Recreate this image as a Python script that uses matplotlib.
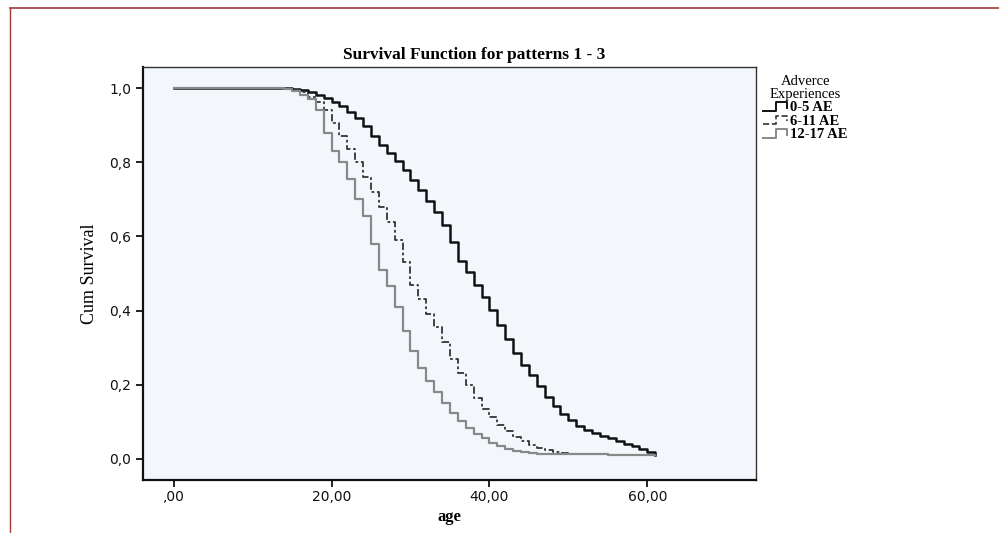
import matplotlib
matplotlib.use("Agg")
import matplotlib.pyplot as plt
from matplotlib.lines import Line2D
from matplotlib.legend_handler import HandlerBase

# Kaplan-Meier step values (age, cumulative survival)
ages_0_5 = [0, 15, 16, 17, 18, 19, 20, 21, 22, 23, 24, 25, 26, 27, 28, 29, 30,
            31, 32, 33, 34, 35, 36, 37, 38, 39, 40, 41, 42, 43, 44, 45, 46, 47,
            48, 49, 50, 51, 52, 53, 54, 55, 56, 57, 58, 59, 60, 61]
surv_0_5 = [1.0, 0.998, 0.995, 0.99, 0.982, 0.973, 0.963, 0.951, 0.936, 0.92,
            0.897, 0.872, 0.846, 0.824, 0.803, 0.778, 0.752, 0.724, 0.696,
            0.667, 0.632, 0.585, 0.535, 0.503, 0.47, 0.437, 0.402, 0.36, 0.322,
            0.285, 0.252, 0.225, 0.197, 0.168, 0.143, 0.122, 0.105, 0.09,
            0.078, 0.069, 0.062, 0.055, 0.047, 0.04, 0.034, 0.026, 0.019, 0.011]

ages_6_11 = [0, 14, 15, 16, 17, 18, 19, 20, 21, 22, 23, 24, 25, 26, 27, 28, 29,
             30, 31, 32, 33, 34, 35, 36, 37, 38, 39, 40, 41, 42, 43, 44, 45, 46,
             47, 48, 49, 50]
surv_6_11 = [1.0, 0.998, 0.995, 0.99, 0.975, 0.962, 0.94, 0.905, 0.87, 0.835,
             0.80, 0.76, 0.72, 0.68, 0.64, 0.59, 0.53, 0.47, 0.43, 0.39, 0.355,
             0.315, 0.27, 0.232, 0.198, 0.165, 0.135, 0.112, 0.092, 0.075, 0.06,
             0.048, 0.038, 0.03, 0.024, 0.018, 0.015, 0.012]

ages_12_17 = [0, 14, 15, 16, 17, 18, 19, 20, 21, 22, 23, 24, 25, 26, 27, 28,
              29, 30, 31, 32, 33, 34, 35, 36, 37, 38, 39, 40, 41, 42, 43, 44,
              45, 46, 50, 55, 61]
surv_12_17 = [1.0, 0.997, 0.992, 0.982, 0.97, 0.94, 0.88, 0.83, 0.80, 0.755,
              0.70, 0.655, 0.58, 0.51, 0.465, 0.41, 0.345, 0.29, 0.245, 0.21,
              0.18, 0.152, 0.124, 0.102, 0.083, 0.068, 0.055, 0.043, 0.034,
              0.027, 0.022, 0.018, 0.016, 0.014, 0.012, 0.011, 0.01]

x_ticks = [0, 20, 40, 60]
y_ticks = [0.0, 0.2, 0.4, 0.6, 0.8, 1.0]
group_labels = ["0-5 AE", "6-11 AE", "12-17 AE"]


class StepHandler(HandlerBase):
    # draws the little step glyph SPSS uses in survival legends
    def create_artists(self, legend, orig_handle, xdescent, ydescent,
                       width, height, fontsize, trans):
        x0, x1 = -xdescent, -xdescent + width
        xm = x0 + width * 0.55
        y0, y1 = -ydescent + height * 0.05, -ydescent + height * 0.85
        line = Line2D([x0, xm, xm, x1, x1], [y0, y0, y1, y1, y0 + height * 0.3],
                      color=orig_handle.get_color(), lw=orig_handle.get_linewidth(),
                      linestyle=orig_handle.get_linestyle())
        line.set_transform(trans)
        return [line]


fig = plt.figure(figsize=(9.99, 5.33), dpi=100)
ax = fig.add_axes([0.143, 0.0994, 0.614, 0.775])
ax.set_facecolor("#f3f7fb")

ax.step(ages_0_5, surv_0_5, where="post", color="#111111", lw=1.8)
ax.step(ages_6_11, surv_6_11, where="post", color="#333333", lw=1.3,
        dashes=(4, 1.5, 1.5, 1.5))
ax.step(ages_12_17, surv_12_17, where="post", color="#888888", lw=1.6)

ax.set_xlim(-3.9, 73.8)
ax.set_ylim(-0.057, 1.057)

ax.set_xticks(x_ticks)
ax.set_xticklabels([f"{v:.2f}".replace(".", ",").lstrip("0") if v == 0
                    else f"{v:.2f}".replace(".", ",") for v in x_ticks])
ax.set_yticks(y_ticks)
ax.set_yticklabels([f"{v:.1f}".replace(".", ",") for v in y_ticks])
ax.tick_params(direction="out", length=5, width=1.3, labelsize=10,
               colors="#111111")
ax.tick_params(axis="x", pad=2)

for side in ["left", "bottom"]:
    ax.spines[side].set_linewidth(1.6)
    ax.spines[side].set_color("#111111")
for side in ["top", "right"]:
    ax.spines[side].set_linewidth(1.0)
    ax.spines[side].set_color("#333333")

ax.set_title("Survival Function for patterns 1 - 3", family="Liberation Serif",
             fontweight="bold", fontsize=12.5, pad=6, x=0.54)
ax.set_xlabel("age", family="Liberation Serif", fontweight="bold", fontsize=12,
              labelpad=4)
ax.set_ylabel("Cum Survival", family="Liberation Serif", fontsize=13,
              labelpad=8)

# legend outside on the right, SPSS style
handles = [Line2D([], [], color="#111111", lw=1.4),
           Line2D([], [], color="#333333", lw=1.2, linestyle=(0, (3, 1.5))),
           Line2D([], [], color="#888888", lw=1.4)]
leg = ax.legend(handles, group_labels, title="Adverce\nExperiences",
                loc="upper left", bbox_to_anchor=(0.995, 1.005), frameon=False,
                handlelength=1.6, handletextpad=0.25, labelspacing=0.02,
                borderaxespad=0.3, handler_map={Line2D: StepHandler()},
                alignment="center",
                prop={"family": "Liberation Serif", "weight": "bold",
                      "size": 10.5})
leg.get_title().set_fontfamily("Liberation Serif")
leg.get_title().set_fontsize(10.5)
leg.get_title().set_linespacing(0.95)
leg.get_title().set_multialignment("center")

# thin red page border
fig.add_artist(Line2D([0.01, 1.0], [0.985, 0.985], color="#a23a3a", lw=1.2))
fig.add_artist(Line2D([0.01, 0.01], [0.0, 0.985], color="#a23a3a", lw=1.0))

fig.savefig("out.png", dpi=100)
